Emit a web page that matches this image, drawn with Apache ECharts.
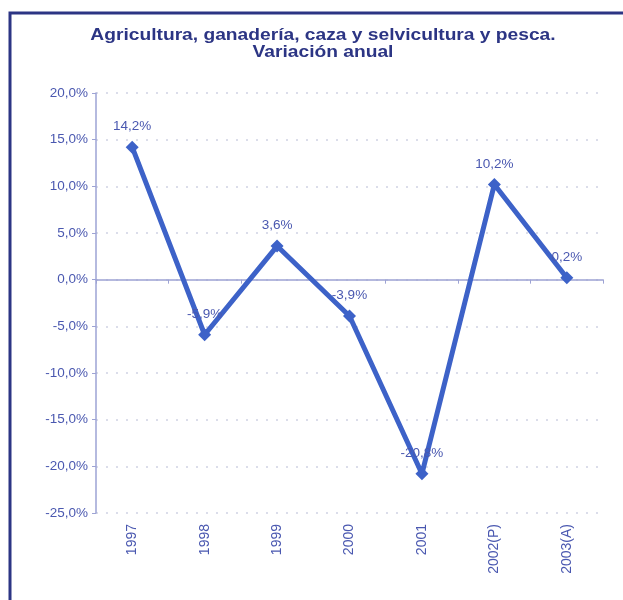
<!DOCTYPE html>
<html>
<head>
<meta charset="utf-8">
<script src="https://cdn.jsdelivr.net/npm/echarts@6/dist/echarts.min.js"></script>
<style>
  html, body { margin: 0; padding: 0; background: #fff; }
  #chart { width: 623px; height: 600px; }
</style>
</head>
<body>
<div id="chart"></div>
<script>
const years = ['1997', '1998', '1999', '2000', '2001', '2002(P)', '2003(A)'];
const variacion = [14.2, -5.9, 3.6, -3.9, -20.8, 10.2, 0.2];
const titulo = 'Agricultura, ganadería, caza y selvicultura y pesca.\nVariación anual';

const fmt = (v) => v.toFixed(1).replace('.', ',') + '%';

const chart = echarts.init(document.getElementById('chart'));

chart.setOption({
  backgroundColor: '#fff',
  textStyle: { fontFamily: 'Liberation Sans, Arial, sans-serif' },
  graphic: [
    {
      type: 'rect',
      shape: { x: 10, y: 13, width: 640, height: 620 },
      style: { fill: 'none', stroke: '#2c3584', lineWidth: 3 },
      silent: true
    },
    {
      // title is wide and flat in the original, so stretch it horizontally
      type: 'text',
      x: 323,
      y: 27,
      scaleX: 1.2,
      style: {
        text: titulo,
        fill: '#2c3584',
        font: 'bold 16px "Liberation Sans", Arial, sans-serif',
        textAlign: 'center',
        textVerticalAlign: 'top',
        lineHeight: 17
      },
      silent: true
    }
  ],
  grid: { left: 96, right: 20, top: 93, bottom: 87 },
  xAxis: {
    type: 'category',
    data: years,
    boundaryGap: true,
    axisLine: { onZero: true, lineStyle: { color: '#9da3d4', width: 1.5 } },
    axisTick: { show: true, length: 4, lineStyle: { color: '#9da3d4' } },
    axisLabel: {
      rotate: 90,
      color: '#4a58b0',
      fontSize: 14,
      margin: 11,
      interval: 0
    },
    splitLine: { show: false }
  },
  yAxis: {
    type: 'value',
    min: -25,
    max: 20,
    interval: 5,
    axisLine: { show: true, lineStyle: { color: '#9da3d4', width: 1.5 } },
    axisTick: { show: true, length: 4, lineStyle: { color: '#9da3d4' } },
    axisLabel: {
      color: '#4a58b0',
      fontSize: 13.5,
      margin: 8,
      formatter: (v) => fmt(v)
    },
    splitLine: {
      show: true,
      lineStyle: { color: '#cfd2e4', type: [2, 8], width: 1.5 }
    }
  },
  series: [
    {
      type: 'line',
      data: variacion,
      symbol: 'diamond',
      symbolSize: 13,
      lineStyle: { color: '#3d62c8', width: 5 },
      itemStyle: { color: '#3d62c8' },
      label: {
        show: true,
        position: 'top',
        distance: 7,
        color: '#4a58b0',
        fontSize: 13.5,
        formatter: (p) => fmt(p.value)
      },
      animation: false
    }
  ]
});
</script>
</body>
</html>
